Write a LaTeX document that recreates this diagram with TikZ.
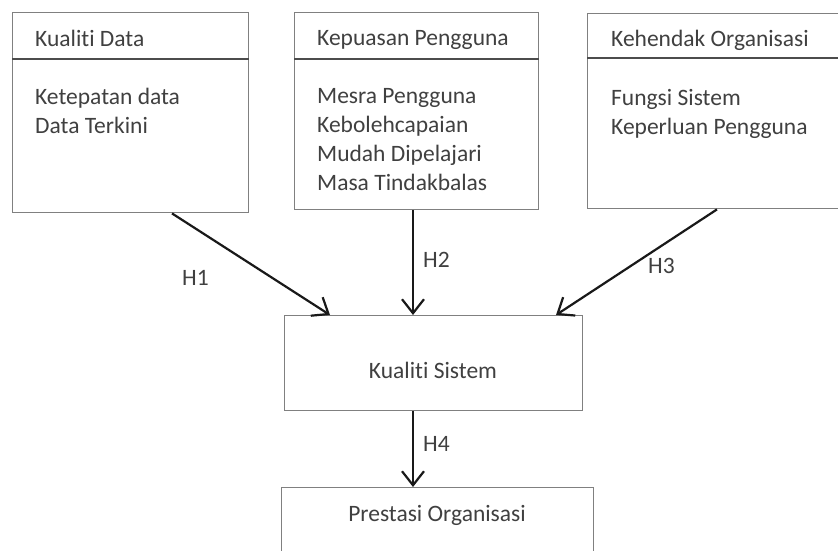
\documentclass[tikz,border=0pt]{standalone}
\usepackage{fontspec}
\setmainfont{Carlito}[Ligatures={NoCommon}]
\usetikzlibrary{arrows.meta}
\newcommand{\fsz}{\fontsize{23.5bp}{29bp}\selectfont}
\begin{document}
\begin{tikzpicture}[x=1bp,y=-1bp,
  box/.style={draw=black!50, line width=1.4bp, rectangle, inner sep=0pt, anchor=north west},
  lbl/.style={anchor=base west, inner sep=0pt, text=black!75, font=\fsz},
  arr/.style={-{Straight Barb[length=14bp,width=22bp,line width=2.2bp]}, line width=2.2bp, draw=black!90},
  sepline/.style={line width=2bp, draw=black!70}]
\useasboundingbox (0,0) rectangle (838,551);
\clip (0,0) rectangle (838,551);
\fill[white] (0,0) rectangle (838,551);
% boxes
\node[box, minimum width=236bp, minimum height=200bp] (q1) at (12,12) {};
\node[box, minimum width=244bp, minimum height=197bp] (q2) at (294,12) {};
\node[box, minimum width=280bp, minimum height=195bp] (q3) at (587,13) {};
\node[box, minimum width=298bp, minimum height=95bp] (ks) at (284,315) {};
\node[box, minimum width=312bp, minimum height=100bp] (po) at (281,487) {};
% header dividers
\coordinate (d1) at (12,59);
\coordinate (d2) at (294,59);
\coordinate (d3) at (587,58);
\draw[sepline] (d1) -- (d1 -| q1.east);
\draw[sepline] (d2) -- (d2 -| q2.east);
\draw[sepline] (d3) -- (d3 -| q3.east);
% texts
\node[lbl] (t1h) at (35,47) {Kualiti Data};
\node[lbl] (t1a) at (35,105) {Ketepatan data};
\node[lbl] (t1b) at (35,134) {Data Terkini};
\node[lbl] (t2h) at (317,46) {Kepuasan Pengguna};
\node[lbl] (t2a) at (317,104) {Mesra Pengguna};
\node[lbl] (t2b) at (317,133) {Kebolehcapaian};
\node[lbl] (t2c) at (317,162) {Mudah Dipelajari};
\node[lbl] (t2d) at (317,191) {Masa Tindakbalas};
\node[lbl] (t3h) at (611,47) {Kehendak Organisasi};
\node[lbl] (t3a) at (611,106) {Fungsi Sistem};
\node[lbl] (t3b) at (611,135) {Keperluan Pengguna};
\node[lbl, anchor=base] (kst) at (433,378) {Kualiti Sistem};
\node[lbl, anchor=base] (pot) at (437,521) {Prestasi Organisasi};
% connector end points
\coordinate (h1s) at ([xshift=160bp]q1.south west);
\coordinate (h1e) at ([xshift=46bp]ks.north west);
\coordinate (h2s) at ([xshift=119bp]q2.south west);
\coordinate (h3s) at ([xshift=130bp]q3.south west);
\coordinate (h3e) at ([xshift=272bp]ks.north west);
\coordinate (h4s) at ([xshift=129bp]ks.south west);
\draw[arr] (h1s) -- (h1e);
\draw[arr] (h2s) -- (h2s |- ks.north);
\draw[arr] (h3s) -- (h3e);
\draw[arr] (h4s) -- (h4s |- po.north);
% labels
\node[lbl] (l1) at (182,286) {H1};
\node[lbl] (l2) at (423,268) {H2};
\node[lbl] (l3) at (648,274) {H3};
\node[lbl] (l4) at (423,451) {H4};
\end{tikzpicture}
\end{document}
